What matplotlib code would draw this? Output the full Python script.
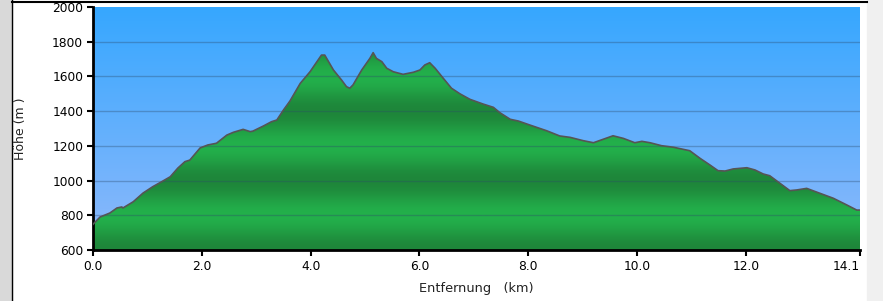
import numpy as np
import matplotlib.pyplot as plt
from matplotlib.colors import LinearSegmentedColormap
from matplotlib.patches import Rectangle

# elevation profile
dist_km = [0.0, 0.13, 0.31, 0.44, 0.53, 0.55, 0.74, 0.92, 1.10, 1.26, 1.42, 1.56, 1.69, 1.78,
           1.97, 2.11, 2.27, 2.46, 2.58, 2.76, 2.89, 2.94, 3.13, 3.28, 3.38, 3.50, 3.62, 3.81,
           3.99, 4.20, 4.26, 4.42, 4.57, 4.66, 4.72, 4.78, 4.94, 5.09, 5.15, 5.21, 5.31, 5.40,
           5.52, 5.70, 5.89, 6.01, 6.10, 6.19, 6.29, 6.44, 6.59, 6.75, 6.93, 7.17, 7.36, 7.48,
           7.67, 7.82, 8.03, 8.34, 8.58, 8.77, 9.01, 9.20, 9.38, 9.56, 9.75, 9.96, 10.09, 10.24,
           10.45, 10.67, 10.97, 11.16, 11.34, 11.49, 11.62, 11.77, 12.02, 12.17, 12.32, 12.44,
           12.63, 12.81, 12.94, 13.12, 13.36, 13.61, 13.86, 14.04, 14.1]
hoehe_m = [748, 790, 813, 842, 848, 842, 878, 928, 965, 993, 1022, 1072, 1109, 1118,
           1188, 1205, 1215, 1262, 1278, 1295, 1282, 1285, 1314, 1339, 1349, 1406, 1458, 1560,
           1627, 1723, 1723, 1637, 1579, 1541, 1532, 1551, 1637, 1704, 1737, 1704, 1685, 1647,
           1627, 1612, 1624, 1637, 1666, 1679, 1647, 1589, 1532, 1499, 1468, 1441, 1422, 1391,
           1353, 1343, 1320, 1287, 1257, 1249, 1230, 1218, 1238, 1258, 1243, 1218, 1226, 1218,
           1201, 1192, 1172, 1128, 1090, 1057, 1055, 1067, 1074, 1061, 1038, 1028,
           984, 942, 946, 955, 927, 898, 859, 830, 830]

x_ticks = [0.0, 2.0, 4.0, 6.0, 8.0, 10.0, 12.0, 14.1]
x_labels = ["0.0", "2.0", "4.0", "6.0", "8.0", "10.0", "12.0", "14.1"]
y_ticks = [600, 800, 1000, 1200, 1400, 1600, 1800, 2000]

W, H = 883, 301
fig = plt.figure(figsize=(W / 100, H / 100), dpi=100)
fig.patch.set_facecolor("white")

# window frame
fig.patches.append(Rectangle((0, 0), 12 / W, 1, transform=fig.transFigure, color="#d9d9d9", zorder=0))
fig.patches.append(Rectangle((867 / W, 0), 1 - 867 / W, 1, transform=fig.transFigure, color="#f0f0f0", zorder=0))
fig.add_artist(plt.Line2D([12 / W, 12 / W], [0, 1], transform=fig.transFigure, color="black", lw=1))
fig.add_artist(plt.Line2D([12 / W, 867 / W], [1 - 1.5 / H, 1 - 1.5 / H], transform=fig.transFigure, color="black", lw=1.5))

ax = fig.add_axes([93 / W, 1 - 250 / H, (860 - 93) / W, (250 - 7) / H])
xmin, xmax, ymin, ymax = 0, 14.1, 600, 2000

# sky gradient
sky = LinearSegmentedColormap.from_list("sky", ["#8fb9fb", "#36a7ff"])
ax.imshow(np.linspace(0, 1, 256).reshape(-1, 1), cmap=sky, origin="lower", aspect="auto",
          extent=[xmin, xmax, ymin, ymax], zorder=0)

# green fill with banded gradient
hh = np.linspace(ymin, ymax, 700)
shade = 0.5 + 0.5 * np.cos(2 * np.pi * (hh - 800) / 400)
green = LinearSegmentedColormap.from_list("grn", ["#1e863a", "#23b04b"])
img = ax.imshow(shade.reshape(-1, 1), cmap=green, origin="lower", aspect="auto",
                extent=[xmin, xmax, ymin, ymax], zorder=1)
poly = ax.fill_between(dist_km, hoehe_m, ymin, facecolor="none", edgecolor="none", zorder=1)
img.set_clip_path(poly.get_paths()[0], transform=ax.transData)
ax.plot(dist_km, hoehe_m, color="#555555", lw=1.2, zorder=3)

for yv in y_ticks[1:-1]:
    ax.axhline(yv, color="#2c4a6a", alpha=0.35, lw=1, zorder=2)

ax.set_xlim(xmin, xmax)
ax.set_ylim(ymin, ymax)
ax.set_xticks(x_ticks)
ax.set_xticklabels(x_labels)
ax.set_yticks(y_ticks)
ax.tick_params(direction="out", length=4, width=1.5, labelsize=8.8, colors="black", pad=3)
ax.get_xticklabels()[-1].set_horizontalalignment("right")
for s in ["top", "right"]:
    ax.spines[s].set_visible(False)
for s in ["left", "bottom"]:
    ax.spines[s].set_linewidth(2)

ax.set_ylabel("Höhe (m )", fontsize=9, color="#222222", labelpad=18)
ax.set_xlabel("Entfernung   (km)", fontsize=9.3, color="#222222", labelpad=7)

fig.savefig("out.png", dpi=100)
